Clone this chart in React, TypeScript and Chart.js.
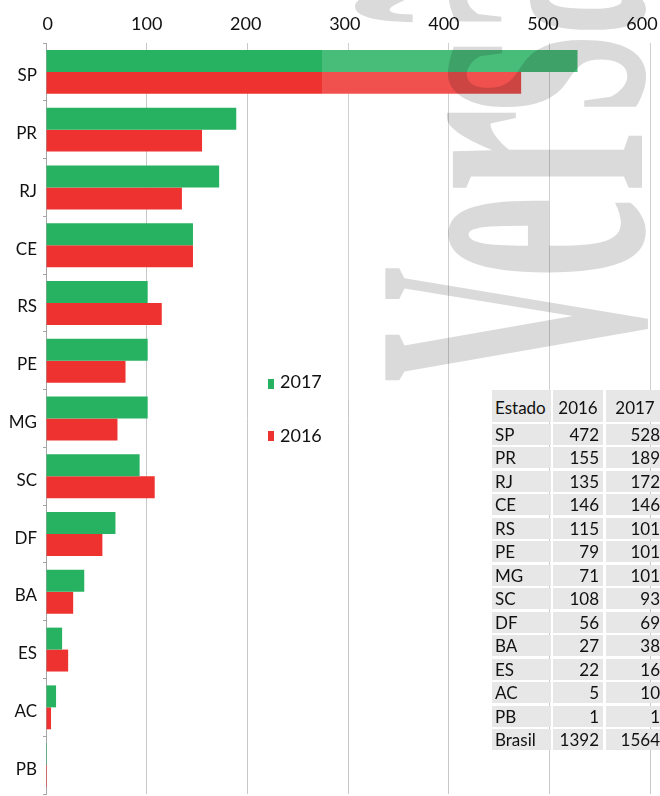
import React, { useEffect, useRef } from 'react';
import { Chart, registerables } from 'chart.js';

Chart.register(...registerables);

const states = ['SP', 'PR', 'RJ', 'CE', 'RS', 'PE', 'MG', 'SC', 'DF', 'BA', 'ES', 'AC', 'PB'];
const values2016 = [472, 155, 135, 146, 115, 79, 71, 108, 56, 27, 22, 5, 1];
const values2017 = [528, 189, 172, 146, 101, 101, 101, 93, 69, 38, 16, 10, 1];
const seriesLabels = ['2017', '2016'];
const xTicks = [0, 100, 200, 300, 400, 500, 600];
const tableHeader = ['Estado', '2016', '2017'];
const totalLabel = 'Brasil';
const total2016 = 1392;
const total2017 = 1564;
const watermarkText = 'Versão';

const GREEN = '#27b262';
const RED = '#ee3230';
const FONT = 'Lato';

const watermarkPlugin = {
  id: 'watermark',
  afterDatasetsDraw(chart: any) {
    const { ctx, chartArea } = chart;
    ctx.save();
    // light veil of the watermark image
    ctx.fillStyle = 'rgba(255,255,255,0.15)';
    ctx.fillRect(322, chartArea.top, chart.width - 322, 400 - chartArea.top);
    ctx.globalCompositeOperation = 'multiply';
    ctx.fillStyle = '#dadada';
    const chars = Array.from(watermarkText);
    const spans = [
      [267, 382, 392],
      [200, 273, 412],
      [110, 190, 412],
      [38, 110, 412],
      [-40, 30, 412],
      [-120, -48, 412],
    ];
    chars.forEach((ch, i) => {
      const [y1, y2, size] = spans[i];
      ctx.font = `bold ${size}px "Liberation Serif"`;
      ctx.textBaseline = 'alphabetic';
      ctx.textAlign = 'left';
      const m = ctx.measureText(ch);
      const inkW = m.actualBoundingBoxLeft + m.actualBoundingBoxRight;
      const sx = (y2 - y1) / inkW;
      ctx.save();
      ctx.translate(642, y2);
      ctx.rotate(-Math.PI / 2);
      ctx.scale(sx, 1);
      ctx.fillText(ch, m.actualBoundingBoxLeft, 0);
      ctx.restore();
    });
    ctx.restore();
  },
};

export default function App() {
  const ref = useRef<HTMLCanvasElement | null>(null);

  useEffect(() => {
    if (!ref.current) return;
    const chart = new Chart(ref.current, {
      type: 'bar',
      data: {
        labels: states,
        datasets: [
          {
            label: seriesLabels[0],
            data: values2017,
            backgroundColor: GREEN,
            borderWidth: 0,
            categoryPercentage: 0.76,
            barPercentage: 1,
          },
          {
            label: seriesLabels[1],
            data: values2016,
            backgroundColor: RED,
            borderWidth: 0,
            categoryPercentage: 0.76,
            barPercentage: 1,
          },
        ],
      },
      options: {
        indexAxis: 'y',
        animation: false,
        responsive: false,
        devicePixelRatio: 1,
        layout: { padding: { left: 0, right: 10, top: 0, bottom: 2 } },
        plugins: {
          legend: { display: false },
          tooltip: { enabled: false },
        },
        scales: {
          x: {
            type: 'linear',
            position: 'top',
            min: 0,
            max: 600,
            ticks: { display: false, stepSize: 100 },
            grid: { color: '#c8c8c8', drawTicks: false, lineWidth: 1 },
            border: { display: false },
            afterFit: (s: any) => {
              s.height = 0;
              s.paddingLeft = 0;
              s.paddingRight = 0;
            },
          },
          x2: {
            type: 'linear',
            position: 'top',
            min: -1.62,
            max: 608.1,
            afterBuildTicks: (s: any) => {
              s.ticks = xTicks.map((v) => ({ value: v }));
            },
            grid: { display: false, drawTicks: false },
            border: { display: false },
            ticks: { font: { family: FONT, size: 18 }, color: '#111', padding: 8, maxRotation: 0, autoSkip: false },
            afterFit: (s: any) => {
              s.height = 43;
              s.paddingLeft = 0;
              s.paddingRight = 0;
            },
          },
          y: {
            type: 'category',
            grid: {
              display: true,
              drawOnChartArea: false,
              drawTicks: true,
              tickLength: 3,
              color: '#a6a6a6',
              offset: true,
            },
            border: { display: true, color: '#a6a6a6' },
            ticks: { font: { family: FONT, size: 17 }, color: '#111', padding: 6, labelOffset: 4 },
            afterFit: (s: any) => {
              s.width = 46;
              s.paddingTop = 0;
              s.paddingBottom = 0;
            },
          },
        },
      },
      plugins: [watermarkPlugin],
    });
    return () => chart.destroy();
  }, []);

  const cols = [
    { left: 492, width: 59 },
    { left: 553, width: 50 },
    { left: 606, width: 58 },
  ];
  const cellBg = '#e7e7e7';
  const rows: (string | number)[][] = states.map((s, i) => [s, values2016[i], values2017[i]]);
  rows.push([totalLabel, total2016, total2017]);

  return (
    <div
      style={{
        position: 'absolute',
        left: 0,
        top: 0,
        width: 660,
        height: 796,
        overflow: 'hidden',
        background: '#fff',
        fontFamily: FONT,
        color: '#111',
      }}
    >
      <canvas ref={ref} width={660} height={796} style={{ display: 'block', width: 660, height: 796 }} />

      {/* legend */}
      {seriesLabels.map((lab, i) => (
        <React.Fragment key={lab}>
          <div
            style={{
              position: 'absolute',
              left: 268,
              top: i === 0 ? 379 : 431,
              width: 6,
              height: 10,
              background: i === 0 ? GREEN : RED,
            }}
          />
          <div
            style={{
              position: 'absolute',
              left: 280,
              top: i === 0 ? 370.2 : 423.5,
              fontSize: 18,
              lineHeight: '22px',
              whiteSpace: 'nowrap',
            }}
          >
            {lab}
          </div>
        </React.Fragment>
      ))}

      {/* table */}
      {tableHeader.map((h, c) => (
        <div
          key={'h' + c}
          style={{
            position: 'absolute',
            left: cols[c].left,
            top: 390,
            width: cols[c].width,
            height: 32,
            boxSizing: 'border-box',
            paddingTop: 3,
            paddingLeft: c === 0 ? 3 : 0,
            background: cellBg,
            fontSize: 17,
            lineHeight: '29px',
            textAlign: c === 0 ? 'left' : 'center',
            whiteSpace: 'nowrap',
          }}
        >
          {h}
        </div>
      ))}
      {rows.map((r, i) =>
        r.map((v, c) => (
          <div
            key={i + '-' + c}
            style={{
              position: 'absolute',
              left: cols[c].left,
              top: 423.5 + i * 23.5,
              width: cols[c].width,
              height: 21,
              boxSizing: 'border-box',
              paddingLeft: c === 0 ? 3 : 0,
              paddingRight: c === 0 ? 0 : 4,
              background: cellBg,
              fontSize: 17,
              lineHeight: '21px',
              textAlign: c === 0 ? 'left' : 'right',
              whiteSpace: 'nowrap',
            }}
          >
            {v}
          </div>
        ))
      )}
    </div>
  );
}
